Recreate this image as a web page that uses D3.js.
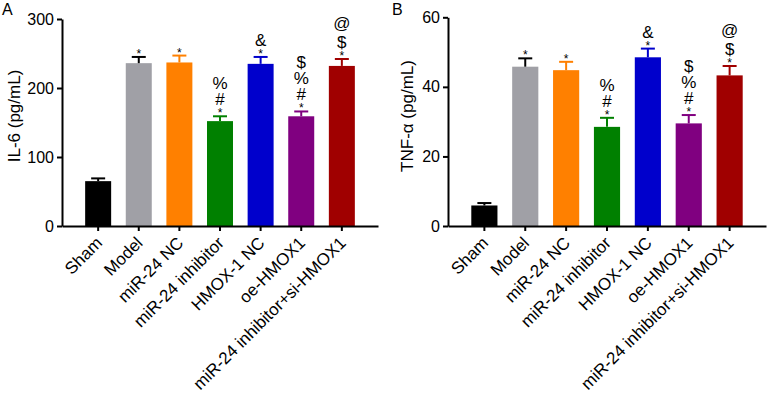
<!DOCTYPE html>
<html><head><meta charset="utf-8">
<script src="https://cdn.jsdelivr.net/npm/d3@7"></script>
<style>body{margin:0;background:#fff}svg{display:block}text{font-family:"Liberation Sans",Arial,sans-serif}</style>
</head><body>
<svg id="chart" width="771" height="400"></svg>
<script>
const categories = ["Sham","Model","miR-24 NC","miR-24 inhibitor","HMOX-1 NC","oe-HMOX1","miR-24 inhibitor+si-HMOX1"];
const barColors = ["#000000","#a0a0a6","#ff8000","#008000","#0000cc","#800080","#a00000"];
const errColors = ["#000000","#000000","#ff8000","#008000","#0000cc","#800080","#a00000"];
const il6Values = [65, 236, 237, 152, 235, 159, 232];
const il6Errors = [4, 9, 10, 7, 10, 7, 10];
const tnfValues = [5.9, 45.8, 44.8, 28.5, 48.5, 29.5, 43.3];
const tnfErrors = [0.7, 2.4, 2.4, 2.6, 2.5, 2.4, 2.7];
const il6Marks = [[],["*"],["*"],["*","#","%"],["*","&"],["*","#","%","$"],["*","$","@"]];
const tnfMarks = [[],["*"],["*"],["*","#","%"],["*","&"],["*","#","%","$"],["*","$","@"]];
const il6Ticks = [0,100,200,300];
const tnfTicks = [0,20,40,60];

const svg = d3.select("#chart");

function panel(opts){
  const g = svg.append("g");
  const x = d3.scaleBand().domain(categories).range([opts.x0, opts.x1]).paddingInner(0.36).paddingOuter(0.57);
  const y = d3.scaleLinear().domain([0, opts.max]).range([opts.yBottom, opts.yTop]);
  g.selectAll("rect.bar").data(opts.values).join("rect")
    .attr("x",(d,i)=>x(categories[i])).attr("width",x.bandwidth())
    .attr("y",d=>y(d)).attr("height",d=>y(0)-y(d))
    .attr("fill",(d,i)=>barColors[i]);
  const eg = g.selectAll("g.err").data(opts.values).join("g");
  eg.append("line")
    .attr("x1",(d,i)=>x(categories[i])+x.bandwidth()/2).attr("x2",(d,i)=>x(categories[i])+x.bandwidth()/2)
    .attr("y1",d=>y(d)).attr("y2",(d,i)=>y(d+opts.errors[i]))
    .attr("stroke",(d,i)=>errColors[i]).attr("stroke-width",2);
  eg.append("line")
    .attr("x1",(d,i)=>x(categories[i])+x.bandwidth()/2-7).attr("x2",(d,i)=>x(categories[i])+x.bandwidth()/2+7)
    .attr("y1",(d,i)=>y(d+opts.errors[i])).attr("y2",(d,i)=>y(d+opts.errors[i]))
    .attr("stroke",(d,i)=>errColors[i]).attr("stroke-width",2);
  opts.values.forEach((v,i)=>{
    if(!opts.marks[i].length) return;
    const cx = x(categories[i])+x.bandwidth()/2;
    const top = y(v+opts.errors[i]);
    const t = g.append("text").attr("text-anchor","middle").attr("fill","#000");
    opts.marks[i].forEach((m,k)=>{
      const isStar = m==="*";
      const extra = (m==="@") ? 3 : 0;
      const yy = isStar ? top+1 : top - 11 - (k-1)*16 - extra;
      t.append("tspan").attr("x",cx).attr("y",yy).attr("font-size",isStar?12:17).text(m);
    });
  });
  const ya = g.append("g").attr("transform",`translate(${opts.x0},0)`)
    .call(d3.axisLeft(y).tickValues(opts.ticks).tickSize(5).tickPadding(3).tickSizeOuter(0));
  ya.select(".domain").attr("stroke","#000").attr("stroke-width",2);
  ya.selectAll(".tick line").attr("stroke","#000").attr("stroke-width",2);
  ya.selectAll(".tick text").attr("font-size",16).attr("fill","#000").style("font-family","Liberation Sans, Arial, sans-serif");
  const xa = g.append("g").attr("transform",`translate(0,${opts.yBottom})`)
    .call(d3.axisBottom(x).tickSize(5).tickSizeOuter(0).tickFormat(""));
  xa.select(".domain").attr("stroke","#000").attr("stroke-width",2);
  xa.selectAll(".tick line").attr("stroke","#000").attr("stroke-width",2);
  g.selectAll("text.xl").data(categories).join("text")
    .attr("class","xl")
    .attr("transform",d=>`translate(${x(d)+x.bandwidth()/2+5},${opts.yBottom+18}) rotate(-45)`)
    .attr("text-anchor","end").attr("font-size",17).attr("fill","#000").text(d=>d);
  g.append("text").attr("transform",`translate(${opts.titleX},${opts.titleY}) rotate(-90)`)
    .attr("text-anchor","middle").attr("font-size",17).attr("fill","#000").text(opts.title);
  g.append("text").attr("x",opts.letterX).attr("y",15).attr("font-size",16).attr("fill","#000").text(opts.letter);
}

panel({x0:62,x1:378,yBottom:226,yTop:19,max:300,values:il6Values,errors:il6Errors,marks:il6Marks,ticks:il6Ticks,
  title:"IL-6 (pg/mL)",titleX:20,titleY:116,letter:"A",letterX:2});
panel({x0:448,x1:766,yBottom:226,yTop:17.3,max:60,values:tnfValues,errors:tnfErrors,marks:tnfMarks,ticks:tnfTicks,
  title:"TNF-α (pg/mL)",titleX:413,titleY:116,letter:"B",letterX:392});
</script>
</body></html>
